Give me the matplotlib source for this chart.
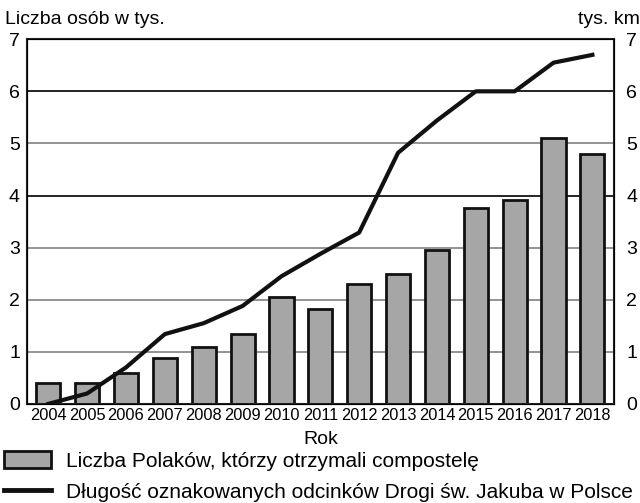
import matplotlib.pyplot as plt
from matplotlib.patches import Patch
from matplotlib.lines import Line2D

plt.rcParams['font.family'] = ['Liberation Sans', 'DejaVu Sans']

years = [str(y) for y in range(2004, 2019)]
# thousands of people who got the compostela
pilgrims = [0.40, 0.40, 0.60, 0.88, 1.10, 1.34, 2.06, 1.83, 2.31, 2.50, 2.96, 3.77, 3.92, 5.10, 4.79]
# thousands of km of marked trail
trail_km = [0.0, 0.2, 0.7, 1.34, 1.55, 1.88, 2.45, 2.88, 3.29, 4.82, 5.44, 6.0, 6.0, 6.55, 6.7]

fig = plt.figure(figsize=(6.4, 5.03), dpi=100)
ax = fig.add_axes([0.042, 0.197, 0.917, 0.725])

x = list(range(len(years)))
for v in range(1, 7):
    c = 'black' if v in (4, 6) else '#808080'
    ax.axhline(v, color=c, lw=1.2, zorder=0)

ax.bar(x, pilgrims, width=0.62, color='#a6a6a6', edgecolor='#111111', linewidth=2, zorder=2)
ax.plot(x, trail_km, color='#111111', lw=3, zorder=3)

ax.set_xlim(-0.55, 14.55)
ax.set_ylim(0, 7)
ax.set_yticks(range(8))
ax.set_xticks(x)
ax.set_xticklabels(years, fontsize=11.8)
ax.tick_params(axis='both', length=0, labelsize=14)
ax.tick_params(axis='x', pad=3, labelsize=11.8)
ax.tick_params(axis='y', pad=5)
for s in ax.spines.values():
    s.set_linewidth(1.5)
    s.set_color('#222222')

ax2 = ax.twinx()
ax2.set_ylim(0, 7)
ax2.set_yticks(range(8))
ax2.tick_params(length=0, labelsize=14, pad=9)

ax.set_xlabel('Rok', fontsize=14, labelpad=6)
fig.text(0.008, 0.953, 'Liczba osób w tys.', fontsize=14)
fig.text(1.0, 0.953, 'tys. km', fontsize=14, ha='right')

handles = [Patch(facecolor='#a6a6a6', edgecolor='#111111', linewidth=2),
           Line2D([0], [0], color='#111111', lw=3.5)]
labels = ['Liczba Polaków, którzy otrzymali compostelę',
          'Długość oznakowanych odcinków Drogi św. Jakuba w Polsce']
fig.legend(handles, labels, loc='lower left', bbox_to_anchor=(-0.006, -0.014),
           frameon=False, fontsize=15, handlelength=2.25, handleheight=0.85,
           labelspacing=0.55, handletextpad=0.7, borderpad=0.2, borderaxespad=0.2)

fig.savefig('out.png', dpi=100)
